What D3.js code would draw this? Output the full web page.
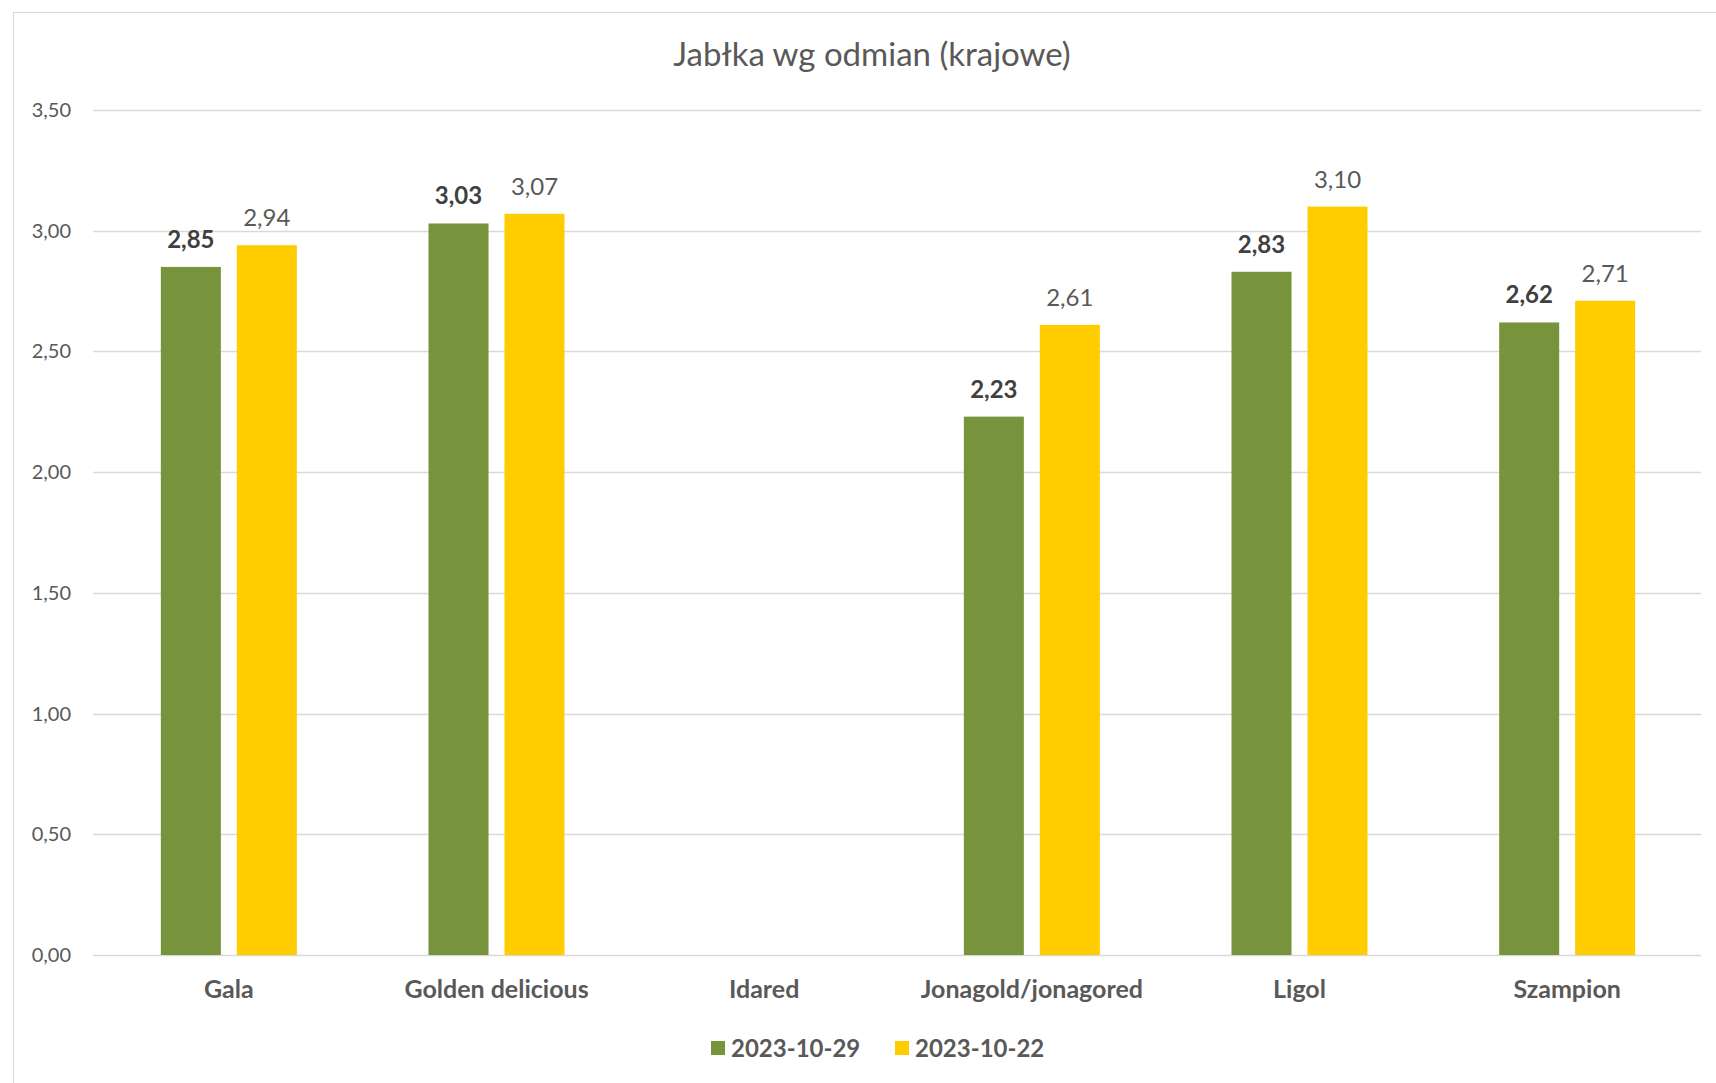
<!DOCTYPE html>
<html>
<head>
<meta charset="utf-8">
<script src="https://cdn.jsdelivr.net/npm/d3@7"></script>
<style>
  body { margin: 0; background: #fff; }
  svg { display: block; font-family: Lato, "Open Sans", sans-serif; }
</style>
</head>
<body>
<svg width="1716" height="1083"></svg>
<script>
const categories = ['Gala', 'Golden delicious', 'Idared', 'Jonagold/jonagored', 'Ligol', 'Szampion'];
const seriesNames = ['2023-10-29', '2023-10-22'];
const values1029 = [2.85, 3.03, null, 2.23, 2.83, 2.62];
const values1022 = [2.94, 3.07, null, 2.61, 3.10, 2.71];
const yTicks = [0, 0.5, 1, 1.5, 2, 2.5, 3, 3.5];
const colors = ['#77933c', '#ffcc00'];

const svg = d3.select('svg');
const fmt = d => d.toFixed(2).replace('.', ',');

// frame of the chart area
svg.append('rect')
    .attr('x', 13.5).attr('y', 12.5)
    .attr('width', 1760).attr('height', 1100)
    .attr('fill', 'none').attr('stroke', '#d9d9d9');

svg.append('text')
    .attr('x', 872).attr('y', 66)
    .attr('text-anchor', 'middle')
    .style('font-size', '33px').style('fill', '#595959')
    .text('Jabłka wg odmian (krajowe)');

const x0 = d3.scaleBand().domain(categories).range([95, 1701]);
const x1 = d3.scaleBand().domain(seriesNames).range([-68, 68]).paddingInner(0.21);
const y = d3.scaleLinear().domain([0, 3.5]).range([955, 110]);

// gridlines
svg.append('g').selectAll('line')
    .data(yTicks)
    .join('line')
    .attr('x1', 93).attr('x2', 1701)
    .attr('y1', d => Math.round(y(d)) + 0.5).attr('y2', d => Math.round(y(d)) + 0.5)
    .attr('stroke', '#d9d9d9').attr('stroke-width', 1.3);

// y tick labels
svg.append('g').selectAll('text')
    .data(yTicks)
    .join('text')
    .attr('x', 71).attr('y', d => y(d) + 7)
    .attr('text-anchor', 'end')
    .style('font-size', '20px').style('fill', '#595959')
    .text(fmt);

// category labels
svg.append('g').selectAll('text')
    .data(categories)
    .join('text')
    .attr('x', d => x0(d) + x0.bandwidth() / 2).attr('y', 998)
    .attr('text-anchor', 'middle')
    .style('font-size', '25px').style('font-weight', 'bold').style('fill', '#595959')
    .text(d => d);

const series = [values1029, values1022];
const labelStyle = [
    { weight: 'bold', fill: '#404040' },
    { weight: 'normal', fill: '#595959' }
];

series.forEach((vals, s) => {
    const rows = categories.map((c, i) => ({ c, v: vals[i] })).filter(d => d.v != null);
    const g = svg.append('g');
    g.selectAll('rect')
        .data(rows)
        .join('rect')
        .attr('x', d => x0(d.c) + x0.bandwidth() / 2 + x1(seriesNames[s]))
        .attr('width', x1.bandwidth())
        .attr('y', d => y(d.v))
        .attr('height', d => y(0) - y(d.v))
        .attr('fill', colors[s]);
    g.selectAll('text')
        .data(rows)
        .join('text')
        .attr('x', d => x0(d.c) + x0.bandwidth() / 2 + x1(seriesNames[s]) + x1.bandwidth() / 2)
        .attr('y', d => y(d.v) - 19)
        .attr('text-anchor', 'middle')
        .style('font-size', '24px')
        .style('font-weight', labelStyle[s].weight)
        .style('fill', labelStyle[s].fill)
        .text(d => fmt(d.v));
});

// legend
const legendX = [711, 895];
const legend = svg.append('g').selectAll('g')
    .data(seriesNames)
    .join('g')
    .attr('transform', (d, i) => `translate(${legendX[i]},1048)`);
legend.append('rect')
    .attr('x', 0).attr('y', -7).attr('width', 14).attr('height', 14)
    .attr('fill', (d, i) => colors[i]);
legend.append('text')
    .attr('x', 20).attr('y', 9)
    .style('font-size', '24px').style('font-weight', 'bold').style('fill', '#595959')
    .text(d => d);
</script>
</body>
</html>
